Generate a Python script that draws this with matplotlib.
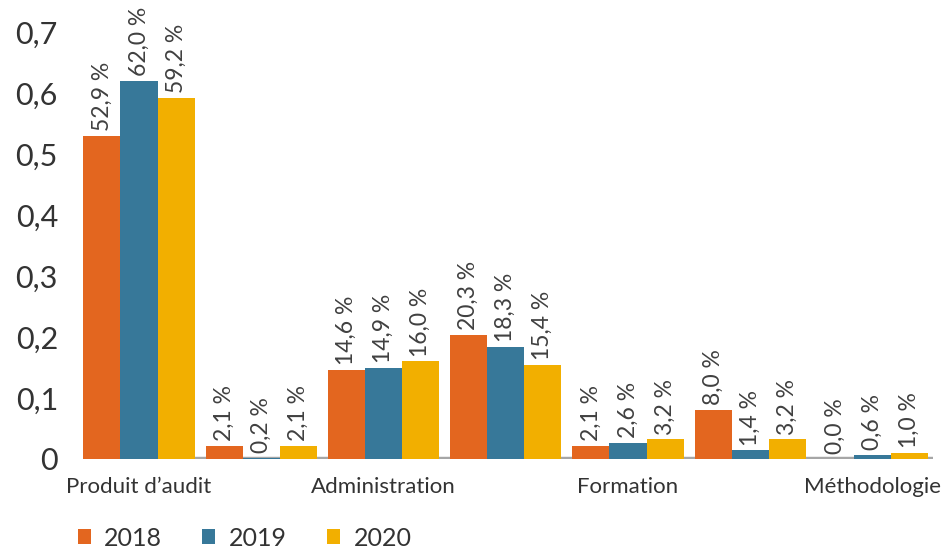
import matplotlib
matplotlib.use("Agg")
import matplotlib.pyplot as plt
import numpy as np
from matplotlib.patches import Patch

plt.rcParams['font.family'] = ['Lato', 'DejaVu Sans']

categories = ['Produit d\u2019audit', '', 'Administration', '', 'Formation', '', 'M\u00e9thodologie']
series_names = ['2018', '2019', '2020']
values_2018 = [52.9, 2.1, 14.6, 20.3, 2.1, 8.0, 0.0]
values_2019 = [62.0, 0.2, 14.9, 18.3, 2.6, 1.4, 0.6]
values_2020 = [59.2, 2.1, 16.0, 15.4, 3.2, 3.2, 1.0]
yticks = [0, 0.1, 0.2, 0.3, 0.4, 0.5, 0.6, 0.7]
ytick_labels = ['0', '0,1', '0,2', '0,3', '0,4', '0,5', '0,6', '0,7']

colors = ['#E3661F', '#377899', '#F2AF00']
series = [values_2018, values_2019, values_2020]

fig = plt.figure(figsize=(9.43, 5.5), dpi=100)
ax = fig.add_axes([83/943, 1-459/550, (933-83)/943, (459-32)/550])

x = np.arange(len(categories))
w = 0.303
for k, (vals, col) in enumerate(zip(series, colors)):
    xs = x + (k-1)*w
    fr = np.array(vals)/100.0
    ax.bar(xs, fr, width=w, color=col, zorder=3, linewidth=0)
    for xi, v, f in zip(xs, vals, fr):
        ax.text(xi, f + 0.008, f"{v:.1f} %".replace('.', ','), rotation=90,
                ha='center', va='bottom', fontsize=16.5, color='#404040',
                clip_on=False, zorder=4)

ax.set_xlim(-0.458, 6.495)
ax.set_ylim(0, 0.7)
ax.axhline(0, color='#A6A6A6', linewidth=3.2, zorder=2)
for s in ax.spines.values():
    s.set_visible(False)
ax.set_yticks(yticks)
ax.set_yticklabels(ytick_labels, fontsize=22, color='#333333')
ax.tick_params(axis='y', length=0, pad=18)
ax.set_xticks(x)
ax.set_xticklabels(categories, fontsize=16, color='#333333')
ax.tick_params(axis='x', length=0, pad=13)

handles = [Patch(facecolor=c, edgecolor='none') for c in colors]
fig.legend(handles, series_names, loc='center left', bbox_to_anchor=(55/943, 1-538/550),
           ncol=3, frameon=False, fontsize=18, handlelength=0.52, handleheight=0.52,
           handletextpad=0.55, columnspacing=1.6, labelcolor='#333333')

fig.savefig('out.png', dpi=100)
